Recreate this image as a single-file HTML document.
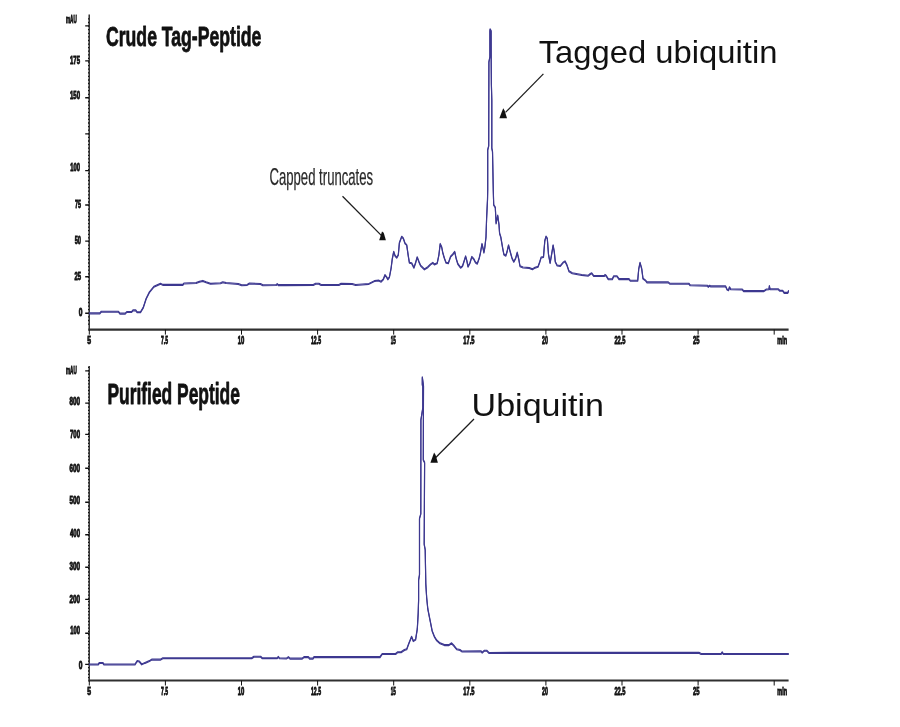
<!DOCTYPE html>
<html lang="en"><head><meta charset="utf-8"><title>HPLC chromatograms</title>
<style>html,body{margin:0;padding:0;background:#fff}body{width:900px;height:727px;overflow:hidden}svg{display:block;will-change:transform}text{font-family:"Liberation Sans","DejaVu Sans",sans-serif}.t{font-weight:bold;fill:#111;stroke:#111;stroke-width:.8px;stroke-linejoin:round}.k{font-weight:bold;fill:#111;font-size:10px;stroke:#111;stroke-width:.85px}.m{fill:#111}.c{fill:#2a2a2a}</style></head><body>
<svg width="900" height="727" viewBox="0 0 900 727">
<rect width="900" height="727" fill="#fff"/>
<path d="M89.2 14.4 V330.6" stroke="#111" stroke-width="1.3" fill="none"/>
<path d="M88.3 329.6 H788.6" stroke="#303030" stroke-width="2.1" fill="none"/>
<path d="M85.2 25.9H89 M85.2 60.9H89 M85.2 97.8H89 M85.2 133.9H89 M85.2 170.6H89 M85.2 205.0H89 M85.2 241.1H89 M85.2 276.7H89 M85.2 313.3H89 " stroke="#111" stroke-width="1.4" fill="none"/>
<path d="M88.0 324.1H89 M88.0 320.5H89 M88.0 316.9H89 M88.0 313.3H89 M88.0 309.7H89 M88.0 306.1H89 M88.0 302.5H89 M88.0 298.9H89 M88.0 295.4H89 M88.0 291.8H89 M88.0 288.2H89 M88.0 284.6H89 M88.0 281.0H89 M88.0 277.4H89 M88.0 273.8H89 M88.0 270.2H89 M88.0 266.6H89 M88.0 263.0H89 M88.0 259.5H89 M88.0 255.9H89 M88.0 252.3H89 M88.0 248.7H89 M88.0 245.1H89 M88.0 241.5H89 M88.0 237.9H89 M88.0 234.3H89 M88.0 230.7H89 M88.0 227.1H89 M88.0 223.6H89 M88.0 220.0H89 M88.0 216.4H89 M88.0 212.8H89 M88.0 209.2H89 M88.0 205.6H89 M88.0 202.0H89 M88.0 198.4H89 M88.0 194.8H89 M88.0 191.2H89 M88.0 187.7H89 M88.0 184.1H89 M88.0 180.5H89 M88.0 176.9H89 M88.0 173.3H89 M88.0 169.7H89 M88.0 166.1H89 M88.0 162.5H89 M88.0 158.9H89 M88.0 155.3H89 M88.0 151.8H89 M88.0 148.2H89 M88.0 144.6H89 M88.0 141.0H89 M88.0 137.4H89 M88.0 133.8H89 M88.0 130.2H89 M88.0 126.6H89 M88.0 123.0H89 M88.0 119.4H89 M88.0 115.9H89 M88.0 112.3H89 M88.0 108.7H89 M88.0 105.1H89 M88.0 101.5H89 M88.0 97.9H89 M88.0 94.3H89 M88.0 90.7H89 M88.0 87.1H89 M88.0 83.5H89 M88.0 80.0H89 M88.0 76.4H89 M88.0 72.8H89 M88.0 69.2H89 M88.0 65.6H89 M88.0 62.0H89 M88.0 58.4H89 M88.0 54.8H89 M88.0 51.2H89 M88.0 47.6H89 M88.0 44.1H89 M88.0 40.5H89 M88.0 36.9H89 M88.0 33.3H89 M88.0 29.7H89 M88.0 26.1H89 M88.0 22.5H89 M88.0 18.9H89 " stroke="#111" stroke-width="1.3" fill="none"/>
<path d="M89.3 329.6V334.6 M165.4 329.6V334.6 M241.5 329.6V334.6 M317.6 329.6V334.6 M393.7 329.6V334.6 M469.8 329.6V334.6 M545.9 329.6V334.6 M622.0 329.6V334.6 M698.1 329.6V334.6 M774.2 329.6V334.6 " stroke="#111" stroke-width="1.0" fill="none"/>
<text class="k" x="87.2" y="343.6" textLength="3.8" lengthAdjust="spacingAndGlyphs">5</text>
<text class="k" x="161" y="343.6" textLength="7.0" lengthAdjust="spacingAndGlyphs">7.5</text>
<text class="k" x="237.8" y="343.6" textLength="6.6" lengthAdjust="spacingAndGlyphs">10</text>
<text class="k" x="311" y="343.6" textLength="10.0" lengthAdjust="spacingAndGlyphs">12.5</text>
<text class="k" x="390.7" y="343.6" textLength="5.1" lengthAdjust="spacingAndGlyphs">15</text>
<text class="k" x="463.3" y="343.6" textLength="11.1" lengthAdjust="spacingAndGlyphs">17.5</text>
<text class="k" x="542" y="343.6" textLength="5.8" lengthAdjust="spacingAndGlyphs">20</text>
<text class="k" x="614.4" y="343.6" textLength="11.1" lengthAdjust="spacingAndGlyphs">22.5</text>
<text class="k" x="693" y="343.6" textLength="6.5" lengthAdjust="spacingAndGlyphs">25</text>
<text class="k" x="777.3" y="343.6" textLength="9.7" lengthAdjust="spacingAndGlyphs">min</text>
<text class="k" x="66" y="23.4" textLength="10.7" lengthAdjust="spacingAndGlyphs">mAU</text>
<text class="k" x="70" y="63.6" textLength="10.0" lengthAdjust="spacingAndGlyphs">175</text>
<text class="k" x="70" y="98.9" textLength="10.0" lengthAdjust="spacingAndGlyphs">150</text>
<text class="k" x="70.3" y="171.1" textLength="9.7" lengthAdjust="spacingAndGlyphs">100</text>
<text class="k" x="75" y="208.2" textLength="6.0" lengthAdjust="spacingAndGlyphs">75</text>
<text class="k" x="74.7" y="243.6" textLength="6.3" lengthAdjust="spacingAndGlyphs">50</text>
<text class="k" x="74.4" y="280.3" textLength="6.6" lengthAdjust="spacingAndGlyphs">25</text>
<text class="k" x="78.7" y="316.1" textLength="3.7" lengthAdjust="spacingAndGlyphs">0</text>
<g stroke="#3d3890" stroke-width="1.15" fill="none" stroke-linejoin="round" stroke-linecap="round">
<path d="M89.4 313.4 L99.8 313.4 L101.3 311.7 L118.5 311.7 L119.8 313.6 L125.2 313.6 L126.8 312.0 L131.6 312.0 L133.0 310.4 L135.7 310.4 L137.1 312.2 L140.5 312.2 L143.2 307.8 L146.1 298.9 L149.4 292.2 L153.9 286.7 L160.5 283.8 L162.8 284.9 L182.8 284.9 L183.9 283.5 L196.1 283.1 L199.4 281.8 L202.8 280.9 L206.1 282.2 L210.5 283.8 L220.5 283.3 L222.8 282.2 L226.1 283.1 L238.3 284.0 L241.7 285.3 L247.2 284.9 L249.4 283.5 L260.5 284.0 L262.8 285.3 L276.1 285.1 L277.2 284.0 L278.3 285.1 L285.0 285.1 L313.3 285.0 L315.6 283.7 L318.9 283.7 L321.1 285.0 L338.9 285.0 L341.1 283.7 L352.2 284.1 L355.6 285.0 L368.9 283.9 L374.4 281.1 L378.9 280.6 L381.1 281.7 L383.3 279.4 L385.0 275.0 L386.7 277.2 L387.8 279.4 L389.4 277.2 L391.1 268.3 L392.2 259.4 L393.7 251.7 L395.0 255.6 L396.7 257.8 L398.3 255.0 L399.4 242.8 L401.7 236.7 L403.3 238.3 L405.0 243.3 L406.7 245.0 L408.3 256.1 L409.4 262.8 L411.7 263.3 L413.9 267.8 L415.6 262.8 L417.2 257.2 L418.9 261.7 L420.6 265.6 L424.4 269.4 L427.8 267.2 L430.6 264.4 L432.8 262.8 L434.4 264.4 L437.2 263.3 L438.9 255.0 L440.2 243.9 L441.7 247.2 L442.8 252.8 L444.4 258.3 L446.1 262.8 L448.3 263.3 L450.6 256.7 L452.8 254.4 L454.7 251.7 L456.1 258.3 L457.8 263.9 L460.6 267.8 L462.5 266.2 L464.3 260.6 L465.6 256.3 L466.8 260.6 L468.0 266.8 L469.9 263.1 L471.8 256.9 L473.6 258.8 L475.5 262.5 L477.3 263.7 L479.2 258.2 L480.4 253.2 L482.0 243.9 L483.3 249.5 L483.9 252.6 L484.8 247.6 L486.0 237.1 L486.6 218.6 L487.5 200.0 L487.7 190.0 L487.7 150.0 L488.7 146.0 L488.9 62.0 L489.9 57.0 L489.9 31.0 L490.1 29.2 L491.1 31.0 L491.2 62.0 L491.4 85.0 L491.8 100.0 L491.8 148.4 L492.5 151.4 L493.3 190.8 L493.7 205.0 L495.3 207.4 L496.1 223.5 L497.7 215.5 L499.0 224.8 L499.6 233.4 L500.8 237.1 L502.7 248.3 L503.9 254.5 L505.8 255.7 L507.0 252.0 L508.5 245.2 L510.1 251.4 L512.0 258.2 L513.8 261.9 L515.7 258.2 L517.2 252.6 L518.8 259.4 L520.0 266.2 L523.1 267.5 L529.3 268.1 L532.4 269.3 L534.3 268.1 L538.0 266.8 L539.8 261.9 L541.1 257.5 L543.5 256.9 L544.8 240.8 L546.0 236.5 L547.3 238.4 L548.5 254.5 L550.1 263.1 L551.6 254.5 L553.1 245.2 L554.3 252.0 L555.3 261.9 L557.2 265.6 L560.3 266.0 L563.0 262.7 L565.0 261.3 L567.0 265.3 L569.0 271.3 L572.3 273.3 L576.3 274.0 L581.7 274.9 L588.3 275.7 L590.3 274.0 L591.7 273.3 L593.7 276.0 L604.3 276.0 L605.0 274.9 L606.3 276.0 L608.3 279.3 L612.3 279.3 L613.7 276.3 L617.0 276.3 L619.0 279.1 L629.0 279.1 L630.3 280.7 L637.7 280.7 L638.7 269.3 L640.0 262.7 L641.7 268.7 L643.0 278.7 L645.7 280.7 L647.0 282.4 L668.3 282.4 L669.7 283.7 L688.8 283.7 L690.2 285.3 L707.6 285.7 L708.3 286.9 L709.7 285.7 L710.5 286.4 L725.6 286.4 L727.1 289.6 L728.5 290.3 L729.5 287.2 L730.7 289.3 L742.3 289.6 L743.7 291.1 L763.9 291.1 L766.1 289.6 L769.0 289.3 L769.4 286.0 L770.0 289.3 L778.4 289.3 L779.8 290.8 L782.7 290.8 L784.2 292.9 L787.8 292.9 L788.5 291.1" transform="translate(0,-0.45)"/>
<path d="M89.4 313.4 L99.8 313.4 L101.3 311.7 L118.5 311.7 L119.8 313.6 L125.2 313.6 L126.8 312.0 L131.6 312.0 L133.0 310.4 L135.7 310.4 L137.1 312.2 L140.5 312.2 L143.2 307.8 L146.1 298.9 L149.4 292.2 L153.9 286.7 L160.5 283.8 L162.8 284.9 L182.8 284.9 L183.9 283.5 L196.1 283.1 L199.4 281.8 L202.8 280.9 L206.1 282.2 L210.5 283.8 L220.5 283.3 L222.8 282.2 L226.1 283.1 L238.3 284.0 L241.7 285.3 L247.2 284.9 L249.4 283.5 L260.5 284.0 L262.8 285.3 L276.1 285.1 L277.2 284.0 L278.3 285.1 L285.0 285.1 L313.3 285.0 L315.6 283.7 L318.9 283.7 L321.1 285.0 L338.9 285.0 L341.1 283.7 L352.2 284.1 L355.6 285.0 L368.9 283.9 L374.4 281.1 L378.9 280.6 L381.1 281.7 L383.3 279.4 L385.0 275.0 L386.7 277.2 L387.8 279.4 L389.4 277.2 L391.1 268.3 L392.2 259.4 L393.7 251.7 L395.0 255.6 L396.7 257.8 L398.3 255.0 L399.4 242.8 L401.7 236.7 L403.3 238.3 L405.0 243.3 L406.7 245.0 L408.3 256.1 L409.4 262.8 L411.7 263.3 L413.9 267.8 L415.6 262.8 L417.2 257.2 L418.9 261.7 L420.6 265.6 L424.4 269.4 L427.8 267.2 L430.6 264.4 L432.8 262.8 L434.4 264.4 L437.2 263.3 L438.9 255.0 L440.2 243.9 L441.7 247.2 L442.8 252.8 L444.4 258.3 L446.1 262.8 L448.3 263.3 L450.6 256.7 L452.8 254.4 L454.7 251.7 L456.1 258.3 L457.8 263.9 L460.6 267.8 L462.5 266.2 L464.3 260.6 L465.6 256.3 L466.8 260.6 L468.0 266.8 L469.9 263.1 L471.8 256.9 L473.6 258.8 L475.5 262.5 L477.3 263.7 L479.2 258.2 L480.4 253.2 L482.0 243.9 L483.3 249.5 L483.9 252.6 L484.8 247.6 L486.0 237.1 L486.6 218.6 L487.5 200.0 L487.7 190.0 L487.7 150.0 L488.7 146.0 L488.9 62.0 L489.9 57.0 L489.9 31.0 L490.1 29.2 L491.1 31.0 L491.2 62.0 L491.4 85.0 L491.8 100.0 L491.8 148.4 L492.5 151.4 L493.3 190.8 L493.7 205.0 L495.3 207.4 L496.1 223.5 L497.7 215.5 L499.0 224.8 L499.6 233.4 L500.8 237.1 L502.7 248.3 L503.9 254.5 L505.8 255.7 L507.0 252.0 L508.5 245.2 L510.1 251.4 L512.0 258.2 L513.8 261.9 L515.7 258.2 L517.2 252.6 L518.8 259.4 L520.0 266.2 L523.1 267.5 L529.3 268.1 L532.4 269.3 L534.3 268.1 L538.0 266.8 L539.8 261.9 L541.1 257.5 L543.5 256.9 L544.8 240.8 L546.0 236.5 L547.3 238.4 L548.5 254.5 L550.1 263.1 L551.6 254.5 L553.1 245.2 L554.3 252.0 L555.3 261.9 L557.2 265.6 L560.3 266.0 L563.0 262.7 L565.0 261.3 L567.0 265.3 L569.0 271.3 L572.3 273.3 L576.3 274.0 L581.7 274.9 L588.3 275.7 L590.3 274.0 L591.7 273.3 L593.7 276.0 L604.3 276.0 L605.0 274.9 L606.3 276.0 L608.3 279.3 L612.3 279.3 L613.7 276.3 L617.0 276.3 L619.0 279.1 L629.0 279.1 L630.3 280.7 L637.7 280.7 L638.7 269.3 L640.0 262.7 L641.7 268.7 L643.0 278.7 L645.7 280.7 L647.0 282.4 L668.3 282.4 L669.7 283.7 L688.8 283.7 L690.2 285.3 L707.6 285.7 L708.3 286.9 L709.7 285.7 L710.5 286.4 L725.6 286.4 L727.1 289.6 L728.5 290.3 L729.5 287.2 L730.7 289.3 L742.3 289.6 L743.7 291.1 L763.9 291.1 L766.1 289.6 L769.0 289.3 L769.4 286.0 L770.0 289.3 L778.4 289.3 L779.8 290.8 L782.7 290.8 L784.2 292.9 L787.8 292.9 L788.5 291.1" transform="translate(0,0.45)"/>
</g>
<path d="M89.2 366.1 V681.5" stroke="#111" stroke-width="1.3" fill="none"/>
<path d="M88.3 680.5 H788.6" stroke="#303030" stroke-width="1.8" fill="none"/>
<path d="M85.2 370.9H89 M85.2 403.1H89 M85.2 434.4H89 M85.2 468.3H89 M85.2 502.2H89 M85.2 534.7H89 M85.2 567.2H89 M85.2 599.4H89 M85.2 633.3H89 M85.2 664.4H89 " stroke="#111" stroke-width="1.4" fill="none"/>
<path d="M88.0 677.6H89 M88.0 674.3H89 M88.0 671.0H89 M88.0 667.7H89 M88.0 664.4H89 M88.0 661.1H89 M88.0 657.8H89 M88.0 654.5H89 M88.0 651.2H89 M88.0 647.9H89 M88.0 644.6H89 M88.0 641.3H89 M88.0 638.0H89 M88.0 634.7H89 M88.0 631.4H89 M88.0 628.1H89 M88.0 624.8H89 M88.0 621.5H89 M88.0 618.2H89 M88.0 614.9H89 M88.0 611.6H89 M88.0 608.3H89 M88.0 605.0H89 M88.0 601.7H89 M88.0 598.4H89 M88.0 595.1H89 M88.0 591.8H89 M88.0 588.5H89 M88.0 585.2H89 M88.0 581.9H89 M88.0 578.6H89 M88.0 575.3H89 M88.0 572.0H89 M88.0 568.7H89 M88.0 565.4H89 M88.0 562.1H89 M88.0 558.8H89 M88.0 555.5H89 M88.0 552.2H89 M88.0 548.9H89 M88.0 545.6H89 M88.0 542.3H89 M88.0 539.0H89 M88.0 535.7H89 M88.0 532.4H89 M88.0 529.1H89 M88.0 525.8H89 M88.0 522.5H89 M88.0 519.2H89 M88.0 515.9H89 M88.0 512.6H89 M88.0 509.3H89 M88.0 506.0H89 M88.0 502.7H89 M88.0 499.4H89 M88.0 496.1H89 M88.0 492.8H89 M88.0 489.5H89 M88.0 486.2H89 M88.0 482.9H89 M88.0 479.6H89 M88.0 476.3H89 M88.0 473.0H89 M88.0 469.7H89 M88.0 466.4H89 M88.0 463.1H89 M88.0 459.8H89 M88.0 456.5H89 M88.0 453.2H89 M88.0 449.9H89 M88.0 446.6H89 M88.0 443.3H89 M88.0 440.0H89 M88.0 436.7H89 M88.0 433.4H89 M88.0 430.1H89 M88.0 426.8H89 M88.0 423.5H89 M88.0 420.2H89 M88.0 416.9H89 M88.0 413.6H89 M88.0 410.3H89 M88.0 407.0H89 M88.0 403.7H89 M88.0 400.4H89 M88.0 397.1H89 M88.0 393.8H89 M88.0 390.5H89 M88.0 387.2H89 M88.0 383.9H89 M88.0 380.6H89 M88.0 377.3H89 M88.0 374.0H89 M88.0 370.7H89 M88.0 367.4H89 " stroke="#111" stroke-width="1.3" fill="none"/>
<path d="M89.3 680.5V685.5 M165.4 680.5V685.5 M241.5 680.5V685.5 M317.6 680.5V685.5 M393.7 680.5V685.5 M469.8 680.5V685.5 M545.9 680.5V685.5 M622.0 680.5V685.5 M698.1 680.5V685.5 M774.2 680.5V685.5 " stroke="#111" stroke-width="1.0" fill="none"/>
<text class="k" x="87.2" y="694.8000000000001" textLength="3.8" lengthAdjust="spacingAndGlyphs">5</text>
<text class="k" x="161" y="694.8000000000001" textLength="7.0" lengthAdjust="spacingAndGlyphs">7.5</text>
<text class="k" x="237.8" y="694.8000000000001" textLength="6.6" lengthAdjust="spacingAndGlyphs">10</text>
<text class="k" x="311" y="694.8000000000001" textLength="10.0" lengthAdjust="spacingAndGlyphs">12.5</text>
<text class="k" x="390.7" y="694.8000000000001" textLength="5.1" lengthAdjust="spacingAndGlyphs">15</text>
<text class="k" x="463.3" y="694.8000000000001" textLength="11.1" lengthAdjust="spacingAndGlyphs">17.5</text>
<text class="k" x="542" y="694.8000000000001" textLength="5.8" lengthAdjust="spacingAndGlyphs">20</text>
<text class="k" x="614.4" y="694.8000000000001" textLength="11.1" lengthAdjust="spacingAndGlyphs">22.5</text>
<text class="k" x="693" y="694.8000000000001" textLength="6.5" lengthAdjust="spacingAndGlyphs">25</text>
<text class="k" x="777.3" y="694.8000000000001" textLength="9.7" lengthAdjust="spacingAndGlyphs">min</text>
<text class="k" x="66" y="373.5" textLength="10.7" lengthAdjust="spacingAndGlyphs">mAU</text>
<text class="k" x="69.4" y="405.2" textLength="10.6" lengthAdjust="spacingAndGlyphs">800</text>
<text class="k" x="70" y="438.0" textLength="10.0" lengthAdjust="spacingAndGlyphs">700</text>
<text class="k" x="69.4" y="471.9" textLength="10.6" lengthAdjust="spacingAndGlyphs">600</text>
<text class="k" x="69.4" y="503.6" textLength="10.6" lengthAdjust="spacingAndGlyphs">500</text>
<text class="k" x="70" y="536.9" textLength="10.0" lengthAdjust="spacingAndGlyphs">400</text>
<text class="k" x="69.4" y="569.7" textLength="10.6" lengthAdjust="spacingAndGlyphs">300</text>
<text class="k" x="69.4" y="603.3" textLength="10.6" lengthAdjust="spacingAndGlyphs">200</text>
<text class="k" x="70.3" y="634.4" textLength="9.7" lengthAdjust="spacingAndGlyphs">100</text>
<text class="k" x="78.7" y="668.6" textLength="3.7" lengthAdjust="spacingAndGlyphs">0</text>
<g stroke="#3d3890" stroke-width="1.15" fill="none" stroke-linejoin="round" stroke-linecap="round">
<path d="M89.4 664.4 L98.3 664.4 L99.4 662.9 L102.8 662.9 L103.9 664.4 L135.0 664.4 L137.2 661.1 L139.4 661.6 L141.7 664.4 L145.0 662.9 L149.4 661.1 L151.7 659.6 L160.6 659.6 L162.8 658.2 L251.7 658.2 L253.9 656.7 L260.6 656.7 L262.1 658.2 L277.2 658.2 L278.3 656.9 L279.4 658.2 L286.7 658.4 L288.4 657.1 L290.0 658.6 L302.2 658.6 L304.0 657.1 L308.4 657.1 L309.6 658.6 L312.9 658.6 L314.0 657.1 L380.0 657.1 L382.2 654.0 L395.6 654.0 L397.8 652.2 L401.1 652.2 L404.4 650.0 L406.7 649.3 L408.9 643.3 L411.6 636.7 L413.3 641.1 L415.6 639.6 L417.3 628.9 L418.2 613.3 L418.6 600.0 L418.6 580.2 L419.5 574.8 L419.5 518.5 L420.8 514.0 L420.9 420.0 L422.8 408.0 L422.8 386.0 L422.3 385.0 L422.3 377.2 L423.5 386.0 L423.4 420.0 L423.3 460.0 L424.6 462.5 L424.2 544.4 L425.2 549.8 L425.8 583.8 L426.7 598.0 L427.8 608.9 L430.0 620.0 L432.2 631.1 L434.4 636.7 L436.7 640.4 L440.0 643.3 L444.4 645.1 L448.9 645.1 L451.6 643.3 L453.8 645.6 L456.7 649.3 L460.0 650.0 L461.8 651.4 L481.1 651.3 L482.2 652.7 L484.4 650.7 L486.7 650.7 L488.9 652.9 L698.9 652.7 L701.1 654.0 L721.1 654.0 L722.2 652.2 L723.3 654.0 L788.4 654.0" transform="translate(0,-0.45)"/>
<path d="M89.4 664.4 L98.3 664.4 L99.4 662.9 L102.8 662.9 L103.9 664.4 L135.0 664.4 L137.2 661.1 L139.4 661.6 L141.7 664.4 L145.0 662.9 L149.4 661.1 L151.7 659.6 L160.6 659.6 L162.8 658.2 L251.7 658.2 L253.9 656.7 L260.6 656.7 L262.1 658.2 L277.2 658.2 L278.3 656.9 L279.4 658.2 L286.7 658.4 L288.4 657.1 L290.0 658.6 L302.2 658.6 L304.0 657.1 L308.4 657.1 L309.6 658.6 L312.9 658.6 L314.0 657.1 L380.0 657.1 L382.2 654.0 L395.6 654.0 L397.8 652.2 L401.1 652.2 L404.4 650.0 L406.7 649.3 L408.9 643.3 L411.6 636.7 L413.3 641.1 L415.6 639.6 L417.3 628.9 L418.2 613.3 L418.6 600.0 L418.6 580.2 L419.5 574.8 L419.5 518.5 L420.8 514.0 L420.9 420.0 L422.8 408.0 L422.8 386.0 L422.3 385.0 L422.3 377.2 L423.5 386.0 L423.4 420.0 L423.3 460.0 L424.6 462.5 L424.2 544.4 L425.2 549.8 L425.8 583.8 L426.7 598.0 L427.8 608.9 L430.0 620.0 L432.2 631.1 L434.4 636.7 L436.7 640.4 L440.0 643.3 L444.4 645.1 L448.9 645.1 L451.6 643.3 L453.8 645.6 L456.7 649.3 L460.0 650.0 L461.8 651.4 L481.1 651.3 L482.2 652.7 L484.4 650.7 L486.7 650.7 L488.9 652.9 L698.9 652.7 L701.1 654.0 L721.1 654.0 L722.2 652.2 L723.3 654.0 L788.4 654.0" transform="translate(0,0.45)"/>
</g>
<text class="t" x="106" y="46.3" font-size="28.3" textLength="155.4" lengthAdjust="spacingAndGlyphs">Crude Tag-Peptide</text>
<text class="t" x="107.4" y="403.8" font-size="29" textLength="132.5" lengthAdjust="spacingAndGlyphs">Purified Peptide</text>
<text class="c" x="269.5" y="184.6" font-size="24" stroke="#2a2a2a" stroke-width=".25" textLength="103.6" lengthAdjust="spacingAndGlyphs">Capped truncates</text>
<text class="m" x="538.7" y="63.3" font-size="31.5" textLength="238.7" lengthAdjust="spacingAndGlyphs">Tagged ubiquitin</text>
<text class="m" x="471.6" y="416.1" font-size="31.5" textLength="132.4" lengthAdjust="spacingAndGlyphs">Ubiquitin</text>
<g stroke="#1c1c1c" stroke-width="1.25" fill="none">
<path d="M342.5 196.3 L381.5 235.6"/>
<path d="M543.4 73.9 L505.5 112.4"/>
<path d="M474 419 L435.8 457.5"/>
</g>
<g fill="#111">
<path d="M379.2 240.2 L385.9 240.2 L383.7 232.8 L382 231.5 Z"/>
<path d="M499.4 118.2 L507 118.2 L504.6 110.6 L503.2 108.3 Z"/>
<path d="M430.4 462.8 L437.9 462.8 L435.6 455 L434.1 452.5 Z"/>
</g>
</svg></body></html>
